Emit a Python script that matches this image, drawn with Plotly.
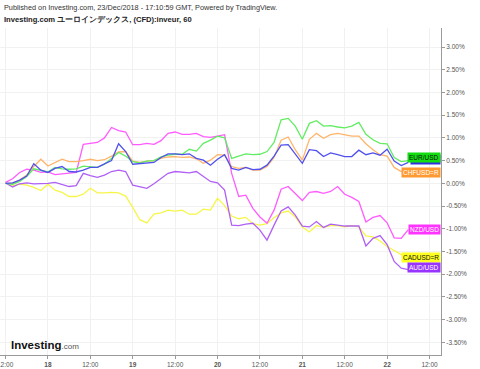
import pandas as pd
import plotly.graph_objects as go

# time axis: 2-hourly points
times = pd.date_range("2018-12-17 12:00", periods=58, freq="2h")

eurusd = [0.0, -0.02, 0.04, 0.15, 0.32, 0.29, 0.25, 0.35, 0.32, 0.31, 0.32, 0.38, 0.37, 0.35,
          0.42, 0.54, 0.68, 0.60, 0.48, 0.45, 0.49, 0.50, 0.58, 0.62, 0.64, 0.64, 0.75, 0.71,
          0.88, 0.95, 1.04, 1.00, 0.55, 0.60, 0.65, 0.63, 0.64, 0.70, 0.90, 1.40, 1.43, 1.26,
          0.97, 1.32, 1.38, 1.26, 1.27, 1.24, 1.22, 1.26, 1.34, 1.08, 0.96, 0.88, 0.87, 0.57,
          0.48, 0.50]
inveur = [0.0, 0.01, 0.07, 0.16, 0.43, 0.29, 0.24, 0.33, 0.37, 0.26, 0.25, 0.29, 0.35, 0.35,
          0.43, 0.50, 0.87, 0.70, 0.42, 0.43, 0.44, 0.46, 0.57, 0.65, 0.65, 0.63, 0.65, 0.55,
          0.51, 0.40, 0.53, 0.63, 0.33, 0.29, 0.35, 0.30, 0.31, 0.40, 0.60, 0.84, 0.85, 0.64,
          0.44, 0.74, 0.72, 0.59, 0.67, 0.63, 0.59, 0.59, 0.73, 0.63, 0.67, 0.62, 0.75, 0.49,
          0.39, 0.46]
chfusd = [0.0, 0.0, 0.07, 0.18, 0.37, 0.53, 0.38, 0.46, 0.53, 0.48, 0.48, 0.50, 0.53, 0.50,
          0.52, 0.60, 0.69, 0.70, 0.49, 0.46, 0.49, 0.50, 0.55, 0.58, 0.59, 0.57, 0.58, 0.54,
          0.44, 0.51, 0.63, 0.62, 0.37, 0.33, 0.35, 0.29, 0.29, 0.37, 0.57, 0.95, 1.02, 0.74,
          0.51, 0.97, 1.10, 0.99, 1.07, 1.10, 1.07, 1.04, 1.04, 0.87, 0.74, 0.63, 0.60, 0.35,
          0.26, 0.27]
nzdusd = [0.02, 0.10, 0.24, 0.31, 0.29, 0.24, 0.25, 0.19, 0.21, 0.22, 0.24, 0.86, 0.88, 0.90,
          1.00, 1.23, 1.16, 1.13, 0.85, 0.85, 0.88, 0.86, 0.94, 1.10, 1.13, 1.08, 1.08, 1.10,
          1.03, 1.01, 1.04, 1.07, 0.22, -0.29, -0.26, -0.55, -0.74, -0.88, -0.59, -0.13, -0.07,
          -0.22, -0.38, -0.20, -0.18, -0.22, -0.18, -0.07, -0.24, -0.31, -0.40, -0.85, -0.75,
          -0.71, -0.87, -1.20, -1.21, -1.02]
cadusd = [0.01, -0.05, -0.02, -0.04, -0.09, -0.16, -0.02, -0.15, -0.20, -0.29, -0.29, -0.24,
          -0.11, -0.21, -0.21, -0.20, -0.21, -0.28, -0.53, -0.80, -0.87, -0.68, -0.65, -0.59,
          -0.61, -0.59, -0.68, -0.68, -0.57, -0.59, -0.33, -0.49, -0.72, -0.78, -0.75, -0.89,
          -0.92, -0.89, -0.76, -0.65, -0.61, -0.74, -0.96, -1.07, -0.93, -0.97, -0.93, -0.93,
          -0.96, -0.93, -0.96, -1.16, -1.18, -1.27, -1.39, -1.48, -1.57, -1.64]
audusd = [0.01, -0.08, -0.01, 0.01, -0.01, -0.01, 0.0, 0.02, -0.03, -0.07, -0.05, 0.22, 0.17,
          0.13, 0.18, 0.26, 0.29, 0.26, -0.04, -0.08, -0.11, -0.01, 0.10, 0.22, 0.26, 0.24, 0.23,
          0.26, 0.15, 0.04, 0.01, -0.15, -0.92, -0.93, -0.90, -0.88, -1.03, -1.25, -0.92, -0.61,
          -0.52, -0.70, -0.94, -0.96, -0.84, -0.97, -0.90, -0.92, -0.94, -0.94, -0.94, -1.38,
          -1.21, -1.15, -1.35, -1.72, -1.87, -1.90]

y_ticks = [3.0, 2.5, 2.0, 1.5, 1.0, 0.5, 0.0, -0.5, -1.0, -1.5, -2.0, -2.5, -3.0, -3.5]
x_tickvals = ["2018-12-17 12:00", "2018-12-18 00:00", "2018-12-18 12:00", "2018-12-19 00:00",
              "2018-12-19 12:00", "2018-12-20 00:00", "2018-12-20 12:00", "2018-12-21 00:00",
              "2018-12-21 12:00", "2018-12-22 00:00", "2018-12-22 12:00"]
x_ticktext = ["12:00", "<b>18</b>", "12:00", "<b>19</b>", "12:00", "<b>20</b>", "12:00",
              "<b>21</b>", "12:00", "<b>22</b>", "12:00"]

series = [
    ("CADUSD=R", cadusd, "#f6f64a"),
    ("AUD/USD", audusd, "#b060f4"),
    ("NZD/USD", nzdusd, "#ff5cff"),
    ("CHFUSD=R", chfusd, "#ffb46a"),
    ("EUR/USD", eurusd, "#62ec62"),
    ("inveur", inveur, "#5050ee"),
]

FONT = "Liberation Sans, Arial, sans-serif"
TICKFONT = dict(family=FONT, size=6.5, color="#555555")
fig = go.Figure()
for name, vals, col in series:
    fig.add_trace(go.Scatter(x=times, y=vals, mode="lines", name=name,
                             line=dict(color=col, width=1.3), showlegend=False,
                             hoverinfo="skip"))

ann = []
# right-side value labels
labels = [
    ("inveur", " ", inveur[-1], "#3333dd", "#3333dd"),
    ("EUR/USD", "EUR/USD", eurusd[-1], "#11dd11", "#111111"),
    ("CHFUSD=R", "CHFUSD=R", chfusd[-1], "#ff9a33", "#ffffff"),
    ("NZD/USD", "NZD/USD", nzdusd[-1], "#ff33ff", "#ffffff"),
    ("CADUSD=R", "CADUSD=R", cadusd[-1], "#ffff22", "#111111"),
    ("AUD/USD", "AUD/USD", audusd[-1], "#9933ff", "#ffffff"),
]
offsets = {"inveur": 0.075, "EUR/USD": 0.07, "CHFUSD=R": -0.04, "NZD/USD": 0.0,
           "CADUSD=R": 0.0, "AUD/USD": 0.04}
for key, txt, v, bg, fc in labels:
    a = dict(xref="paper", yref="y", x=1, y=v + offsets[key], xanchor="right",
             yanchor="middle", text=txt, showarrow=False, bgcolor=bg,
             font=dict(family=FONT, size=6.5, color=fc), borderpad=1)
    if key == "inveur":
        a.update(width=27, height=7)
    ann.append(a)

# first (partly off-page) x tick label, which plotly would otherwise hide
ann.append(dict(xref="x", yref="paper", x=x_tickvals[0], y=0, yshift=-4,
                xanchor="center", yanchor="top", showarrow=False,
                text=x_ticktext[0], font=TICKFONT))

ann.append(dict(xref="paper", yref="paper", x=0.0, y=1.064, xanchor="left", yanchor="middle",
                xshift=2, showarrow=False,
                text="Published on Investing.com, 23/Dec/2018 - 17:10:59 GMT, Powered by TradingView.",
                font=dict(family=FONT, size=7.3, color="#333333")))
ann.append(dict(xref="paper", yref="paper", x=0.0, y=1.027, xanchor="left", yanchor="middle",
                xshift=2, showarrow=False,
                text="<b>Investing.com ユーロインデックス, (CFD):inveur, 60</b>",
                font=dict(family=FONT, size=7.6, color="#222222")))
ann.append(dict(xref="paper", yref="paper", x=0.02, y=0.03, xanchor="left", yanchor="middle",
                showarrow=False,
                text="<b>Investing</b><span style='font-size:8px;color:#555555'>.com</span>",
                font=dict(family=FONT, size=11.5, color="#111111")))

fig.update_layout(
    width=480, height=369,
    margin=dict(l=0, r=39, t=28, b=14, pad=0),
    paper_bgcolor="white", plot_bgcolor="white",
    annotations=ann,
    hovermode=False,
    xaxis=dict(type="date", range=["2018-12-17 10:26", "2018-12-22 15:15"],
               tickvals=x_tickvals, ticktext=x_ticktext,
               showgrid=True, gridcolor="#f1f1f1", gridwidth=1,
               showline=True, linecolor="#9a9a9a", linewidth=1,
               ticks="outside", ticklen=3, tickcolor="#9a9a9a",
               tickfont=TICKFONT, zeroline=False, automargin=False),
    yaxis=dict(side="right", range=[-3.78, 3.42], tickvals=y_ticks,
               ticktext=["%.2f%%" % t for t in y_ticks],
               showgrid=True, gridcolor="#f1f1f1", gridwidth=1,
               showline=True, linecolor="#9a9a9a", linewidth=1,
               ticks="outside", ticklen=3, tickcolor="#9a9a9a",
               tickfont=TICKFONT, zeroline=False, automargin=False),
)

fig.write_html("out.html", config={"displayModeBar": False},
               post_script="document.body.style.margin='0';document.body.style.padding='0';")
